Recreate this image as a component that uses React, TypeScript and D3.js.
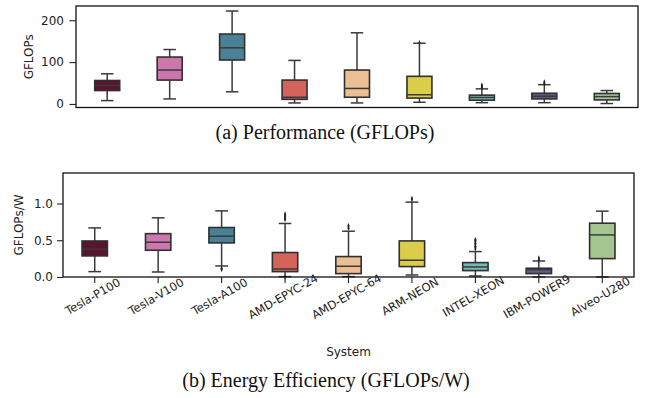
import React, { useEffect, useRef } from 'react';
import * as d3 from 'd3';

const systems = ['Tesla-P100', 'Tesla-V100', 'Tesla-A100', 'AMD-EPYC-24', 'AMD-EPYC-64', 'ARM-NEON', 'INTEL-XEON', 'IBM-POWER9', 'Alveo-U280'];
const colors = ['#5c1330', '#cc77ab', '#4b8196', '#d4645a', '#ecbe94', '#dacd4a', '#76b8b2', '#5d5d8c', '#a3c58f'];

// [lower whisker, q1, median, q3, upper whisker]
const perfStats = [
  [8, 32, 44, 56, 72],
  [12, 57, 81, 112, 130],
  [29, 105, 134, 167, 222],
  [2.4, 11, 16, 57, 104],
  [2.4, 16, 37, 81, 170],
  [4, 14, 22, 66, 145],
  [3, 9, 15.5, 21, 36],
  [3, 12, 18.5, 25.5, 46],
  [1, 9.6, 17.5, 25, 32],
];
const perfOutliers = [[], [], [], [], [], [147], [39, 41, 43, 45], [48, 50, 53], []];
const perfTicks = [0, 100, 200];

const effStats = [
  [0.073, 0.287, 0.378, 0.49, 0.668],
  [0.068, 0.364, 0.473, 0.59, 0.805],
  [0.15, 0.464, 0.555, 0.673, 0.9],
  [0.005, 0.073, 0.109, 0.333, 0.728],
  [0.005, 0.046, 0.146, 0.278, 0.623],
  [0.027, 0.142, 0.228, 0.491, 1.019],
  [0.014, 0.087, 0.137, 0.196, 0.346],
  [0.0, 0.046, 0.1, 0.119, 0.218],
  [0.0, 0.25, 0.573, 0.732, 0.896],
];
const effOutliers = [
  [], [], [0.1, 0.11, 0.12],
  [0.0, 0.78, 0.8, 0.82, 0.84, 0.86],
  [0.66, 0.68, 0.7],
  [1.05, 1.07],
  [0.38, 0.4, 0.42, 0.44, 0.46, 0.48, 0.5, 0.51],
  [0.23, 0.245, 0.26],
  [],
];
const effTicks = [0, 0.5, 1.0];

const sans = 'DejaVu Sans, sans-serif';
const serif = 'Liberation Serif, Times New Roman, serif';

function drawPanel(svg, opts) {
  const { x0, x1, yTop, yBottom, domain, stats, outliers, ticks, tickFmt, yLabel, labelX, showX, tickLen, tickPad } = opts;
  const x = d3.scaleBand().domain(systems).range([x0, x1]);
  const y = d3.scaleLinear().domain(domain).range([yBottom, yTop]);
  const g = svg.append('g');
  const bw = x.bandwidth() * 0.4;

  systems.forEach((s, i) => {
    const [lo, q1, med, q3, hi] = stats[i];
    const cx = x(s) + x.bandwidth() / 2;
    const bg = g.append('g');
    const line = (xa, ya, xb, yb) => bg.append('line')
      .attr('x1', xa).attr('y1', ya).attr('x2', xb).attr('y2', yb)
      .attr('stroke', '#3a3a3a').attr('stroke-width', 1.5);
    line(cx, y(hi), cx, y(q3));
    line(cx, y(q1), cx, y(lo));
    line(cx - bw / 4, y(hi), cx + bw / 4, y(hi));
    line(cx - bw / 4, y(lo), cx + bw / 4, y(lo));
    bg.append('rect')
      .attr('x', cx - bw / 2).attr('y', y(q3))
      .attr('width', bw).attr('height', y(q1) - y(q3))
      .attr('fill', colors[i]).attr('stroke', '#303030').attr('stroke-width', 1.6);
    line(cx - bw / 2, y(med), cx + bw / 2, y(med));
    outliers[i].forEach(v => {
      bg.append('path')
        .attr('d', d3.symbol(d3.symbolDiamond, 8)())
        .attr('transform', `translate(${cx},${y(v)}) scale(0.65,1)`)
        .attr('fill', '#222');
    });
  });

  // frame
  g.append('rect')
    .attr('x', x0).attr('y', yTop).attr('width', x1 - x0).attr('height', yBottom - yTop)
    .attr('fill', 'none').attr('stroke', '#111').attr('stroke-width', 1.3);

  // y axis
  const yAxis = g.append('g').attr('transform', `translate(${x0},0)`)
    .call(d3.axisLeft(y).tickValues(ticks).tickFormat(tickFmt).tickSize(tickLen).tickPadding(tickPad));
  yAxis.select('.domain').remove();
  yAxis.selectAll('text').attr('font-family', sans).attr('font-size', 12).attr('fill', '#222');
  yAxis.selectAll('line').attr('stroke', '#222').attr('stroke-width', 1.1);

  g.append('text')
    .attr('transform', `translate(${labelX},${(yTop + yBottom) / 2}) rotate(-90)`)
    .attr('text-anchor', 'middle')
    .attr('font-family', sans).attr('font-size', 12).attr('fill', '#222')
    .text(yLabel);

  if (showX) {
    const xAxis = g.append('g').attr('transform', `translate(0,${yBottom})`)
      .call(d3.axisBottom(x).tickSize(6).tickSizeOuter(0));
    xAxis.select('.domain').remove();
    xAxis.selectAll('line').attr('stroke', '#222').attr('stroke-width', 1.1);
    xAxis.selectAll('text')
      .attr('font-family', sans).attr('font-size', 11.5).attr('fill', '#222')
      .attr('text-anchor', 'middle')
      .attr('dy', 0)
      .attr('y', 0)
      .attr('transform', 'translate(0,23) rotate(-30)');
    g.append('text')
      .attr('x', (x0 + x1) / 2).attr('y', yBottom + 79)
      .attr('text-anchor', 'middle')
      .attr('font-family', sans).attr('font-size', 12).attr('fill', '#222')
      .text('System');
  }
}

export default function App() {
  const svgRef = useRef(null);

  useEffect(() => {
    const svg = d3.select(svgRef.current);
    svg.selectAll('*').remove();

    drawPanel(svg, {
      x0: 76, x1: 638, yTop: 6, yBottom: 107.5, domain: [-8.5, 234],
      stats: perfStats, outliers: perfOutliers, ticks: perfTicks, tickFmt: d3.format('d'),
      yLabel: 'GFLOPs', labelX: 33, showX: false, tickLen: 6.5, tickPad: 5.5,
    });
    drawPanel(svg, {
      x0: 63, x1: 634, yTop: 173, yBottom: 277, domain: [0, 1.415],
      stats: effStats, outliers: effOutliers, ticks: effTicks, tickFmt: d3.format('.1f'),
      yLabel: 'GFLOPs/W', labelX: 23, showX: true, tickLen: 6, tickPad: 4,
    });

    svg.append('text')
      .attr('x', 325).attr('y', 139).attr('text-anchor', 'middle')
      .attr('font-family', serif).attr('font-size', 20).attr('fill', '#111')
      .text('(a) Performance (GFLOPs)');
    svg.append('text')
      .attr('x', 326).attr('y', 387).attr('text-anchor', 'middle')
      .attr('font-family', serif).attr('font-size', 20).attr('fill', '#111')
      .text('(b) Energy Efficiency (GFLOPs/W)');
  }, []);

  return (
    <div style={{ position: 'absolute', left: 0, top: 0 }}>
      <svg ref={svgRef} width={649} height={398} style={{ display: 'block', background: '#fff' }} />
    </div>
  );
}
